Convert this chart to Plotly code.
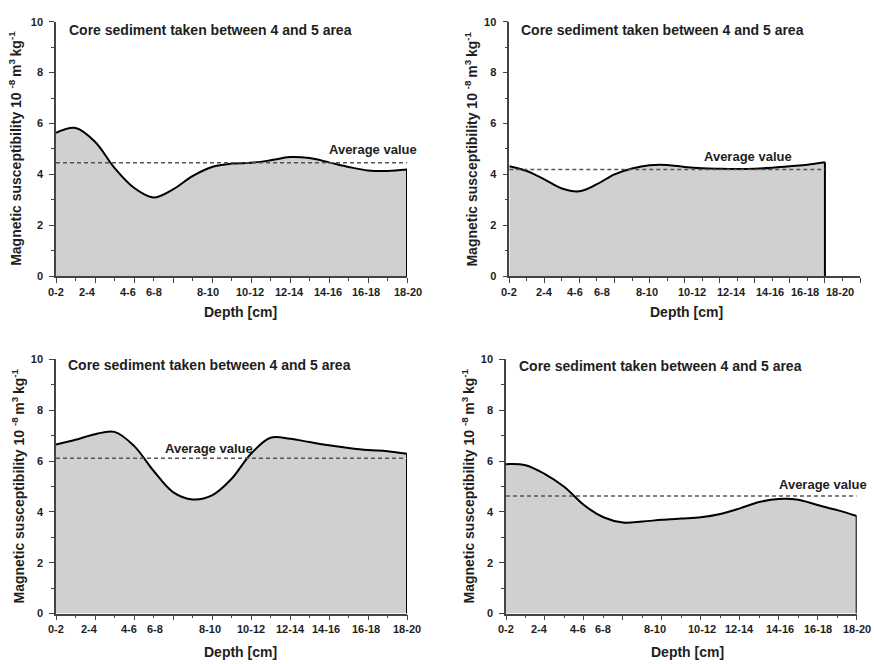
import plotly.graph_objects as go

# ---------------- data ----------------
depth_labels = ["0-2", "2-4", "4-6", "6-8", "8-10", "10-12", "12-14", "14-16", "16-18", "18-20"]

# tick-label positions (in axis units) for each panel
label_pos_1 = [0, 0.80, 1.85, 2.51, 3.90, 4.97, 5.99, 6.97, 7.96, 9.02]
label_pos_2 = [0, 0.99, 1.87, 2.63, 3.94, 5.21, 6.35, 7.42, 8.43, 9.42]
label_pos_3 = [0, 0.87, 1.88, 2.54, 3.96, 4.99, 6.00, 6.93, 7.96, 9.00]
label_pos_4 = [0, 0.85, 1.85, 2.50, 3.82, 5.02, 6.00, 7.03, 8.00, 9.00]

# susceptibility curves (x in axis units, y in 10^-8 m3 kg^-1)
x_pts = [0, 0.5, 1, 1.5, 2, 2.5, 3, 3.5, 4, 4.5, 5, 5.5, 6, 6.5, 7, 7.5, 8, 8.5, 9]
y1 = [5.63, 5.82, 5.28, 4.25, 3.47, 3.09, 3.41, 3.93, 4.29, 4.42, 4.45, 4.55, 4.68, 4.64, 4.47, 4.29, 4.15, 4.13, 4.19]
y2 = [4.32, 4.13, 3.80, 3.44, 3.33, 3.61, 4.0, 4.23, 4.36, 4.37, 4.29, 4.24, 4.22, 4.21, 4.22, 4.26, 4.32, 4.38, 4.47]
y3 = [6.65, 6.84, 7.06, 7.15, 6.60, 5.62, 4.78, 4.49, 4.65, 5.30, 6.29, 6.92, 6.88, 6.75, 6.62, 6.52, 6.44, 6.39, 6.29]
y4 = [5.88, 5.84, 5.49, 4.98, 4.27, 3.79, 3.58, 3.62, 3.69, 3.74, 3.79, 3.92, 4.14, 4.39, 4.51, 4.48, 4.27, 4.07, 3.84]

averages = [4.45, 4.19, 6.11, 4.63]
avg_label_pos = [(8.13, 4.96), (6.82, 4.70), (3.93, 6.49), (8.14, 5.08)]
title_pos = [(0.27, 9.68), (0.28, 9.68), (0.26, 9.78), (0.29, 9.74)]
x_ranges = [9, 10, 9, 9]

title_text = "Core sediment taken between 4 and 5 area"
ytitle_text = "Magnetic susceptibility 10 <sup>-8 </sup>m<sup>3 </sup>kg<sup>-1</sup>"
xtitle_text = "Depth [cm]"

# ---------------- layout geometry ----------------
W, H = 874, 664
# pixel boxes: (left, right, top, bottom)
boxes = [(56, 407, 16, 275), (509.3, 860, 16, 275), (56, 407, 360, 618.7), (506, 856.7, 360, 618.7)]
ytitle_x = [15, 470.7, 18, 468]
xtitle_pos = [(240, 312), (686.7, 312), (240, 658), (687.3, 658.3)]

FONT = "Liberation Sans, Arial, sans-serif"
AXC = "#444444"
TXT = "#1e1e1e"

fig = go.Figure()
series = [(y1, label_pos_1), (y2, label_pos_2), (y3, label_pos_3), (y4, label_pos_4)]
annotations = []

for i, (ys, lpos) in enumerate(series):
    xs = x_pts
    n = i + 1
    xa = "x" if n == 1 else f"x{n}"
    ya = "y" if n == 1 else f"y{n}"
    # filled curve
    fig.add_trace(go.Scatter(x=xs, y=ys, mode="lines", fill="tozeroy", fillcolor="#d0d0d0",
                             line=dict(color="black", width=2, shape="spline", smoothing=1.0),
                             xaxis=xa, yaxis=ya, cliponaxis=False, showlegend=False, hoverinfo="skip"))
    # right closing edge
    fig.add_trace(go.Scatter(x=[xs[-1], xs[-1]], y=[0, ys[-1]], mode="lines",
                             line=dict(color="black", width=2),
                             xaxis=xa, yaxis=ya, cliponaxis=False, showlegend=False, hoverinfo="skip"))
    # average dashed line
    fig.add_trace(go.Scatter(x=[xs[0], xs[-1]], y=[averages[i], averages[i]], mode="lines",
                             line=dict(color="#555555", width=1.5, dash="4px,3px"),
                             xaxis=xa, yaxis=ya, cliponaxis=False, showlegend=False, hoverinfo="skip"))

    l, r, t, b = boxes[i]
    xdom = [l / W, r / W]
    ydom = [1 - b / H, 1 - t / H]
    xkey = "xaxis" if n == 1 else f"xaxis{n}"
    ykey = "yaxis" if n == 1 else f"yaxis{n}"
    fig.layout[xkey] = dict(domain=xdom, anchor=ya, range=[0, x_ranges[i]], showgrid=False, zeroline=False,
                            showline=True, linecolor=AXC, linewidth=1.5, ticks="outside", ticklen=5,
                            tickwidth=1.3, tickcolor=AXC, tickmode="linear", tick0=0, dtick=1,
                            showticklabels=False,
                            minor=dict(ticks="outside", ticklen=3, tickwidth=1, tickcolor=AXC, dtick=0.5,
                                       showgrid=False))
    fig.layout[ykey] = dict(domain=ydom, anchor=xa, range=[0, 10], showgrid=False, zeroline=False,
                            showline=True, linecolor=AXC, linewidth=1.5, ticks="outside", ticklen=5,
                            tickwidth=1.3, tickcolor=AXC, tickmode="linear", tick0=0, dtick=2,
                            ticklabelstandoff=4,
                            tickfont=dict(family=FONT, size=11, color=TXT, weight="bold"),
                            minor=dict(ticks="outside", ticklen=3, tickwidth=1, tickcolor=AXC, dtick=1,
                                       showgrid=False))
    # x tick labels at their positions (converted through the axis range to paper coords)
    for lab, p in zip(depth_labels, lpos):
        xp = xdom[0] + (xdom[1] - xdom[0]) * p / x_ranges[i]
        annotations.append(dict(x=xp, y=ydom[0], xref="paper", yref="paper", text=lab, showarrow=False,
                                yshift=-15.7, xanchor="center", yanchor="middle",
                                font=dict(family=FONT, size=11, color=TXT, weight="bold")))
    # panel title
    annotations.append(dict(x=title_pos[i][0], y=title_pos[i][1], xref=xa, yref=ya, text=title_text,
                            showarrow=False, xanchor="left", yanchor="middle",
                            font=dict(family=FONT, size=14, color=TXT, weight="bold")))
    # average label
    annotations.append(dict(x=avg_label_pos[i][0], y=avg_label_pos[i][1], xref=xa, yref=ya,
                            text="Average value", showarrow=False, xanchor="center", yanchor="middle",
                            font=dict(family=FONT, size=13, color=TXT, weight="bold")))
    # axis titles
    annotations.append(dict(x=ytitle_x[i] / W, y=(ydom[0] + ydom[1]) / 2, xref="paper", yref="paper",
                            text=ytitle_text, textangle=-90, showarrow=False, xanchor="center",
                            yanchor="middle", font=dict(family=FONT, size=14, color=TXT, weight="bold")))
    annotations.append(dict(x=xtitle_pos[i][0] / W, y=1 - xtitle_pos[i][1] / H, xref="paper", yref="paper",
                            text=xtitle_text, showarrow=False, xanchor="center", yanchor="middle",
                            font=dict(family=FONT, size=14, color=TXT, weight="bold")))

fig.update_layout(width=W, height=H, margin=dict(l=0, r=0, t=0, b=0),
                  paper_bgcolor="white", plot_bgcolor="white",
                  font=dict(family=FONT, color=TXT), annotations=annotations, showlegend=False)

fig.write_html("out.html", config={"displayModeBar": False})
